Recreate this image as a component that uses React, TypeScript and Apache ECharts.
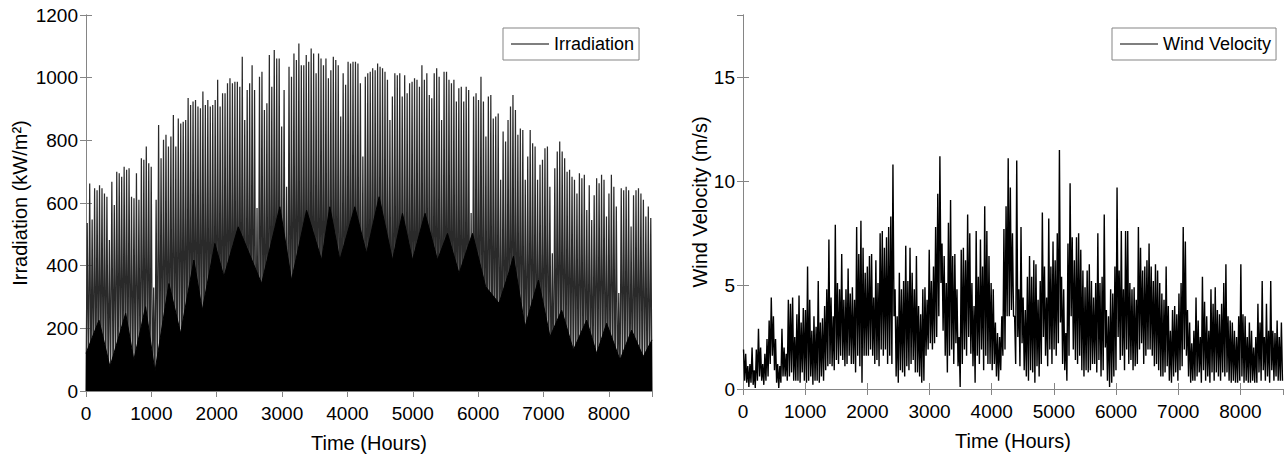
import React, { useEffect, useRef } from "react";
import * as echarts from "echarts";

// Axis ranges and tick steps
const IRR_X_MAX = 8660;
const WIND_X_MAX = 8685;
const X_STEP = 1000;
const IRR_Y_MAX = 1200;
const IRR_Y_STEP = 200;
const WIND_Y_MAX = 18;
const WIND_Y_STEP = 5;

// Irradiation: visible daily peak values (kW/m²), left to right
const irrPeaks = [
  536, 662, 547, 647, 641, 657, 647, 630, 620, 482,
  668, 594, 700, 695, 684, 716, 706, 711, 620, 615,
  695, 610, 743, 738, 780, 727, 716, 330, 610, 849,
  743, 802, 818, 780, 812, 881, 780, 870, 854, 859,
  865, 935, 913, 924, 929, 908, 902, 956, 913, 929,
  908, 913, 929, 993, 908, 950,
  950, 982, 998, 982, 987, 987, 971, 1067, 865, 961,
  982, 1040, 961, 584, 1003, 1019, 897, 918, 1072, 971,
  1088, 1061, 1061, 844, 961, 652, 1035, 1003, 1077, 1056,
  1109, 1040, 1040, 1072, 1051, 1093, 1077, 1014, 1077, 1061,
  1040, 1061, 998, 1024, 1067, 1056, 1040, 876, 1014, 977,
  1051, 1045, 1051, 1051, 1045, 982, 748, 1003,
  1014, 1019, 1030, 1024, 1045, 1035, 1030, 1019, 993, 865,
  940, 1014, 1008, 1014, 940, 1008, 950, 982, 987, 998,
  993, 971, 1040, 993, 1014, 945, 934, 1014, 1030, 1003,
  865, 1019, 1019, 993, 982, 993, 924, 966, 971, 924,
  971, 961, 568, 940, 950, 929, 1003, 924, 812, 940,
  945, 870, 876, 886, 674, 828, 796,
  865, 908, 945, 897, 818, 838, 833, 674, 748, 833,
  791, 780, 674, 722, 738, 775, 780, 652, 440, 711,
  764, 796, 764, 743, 700, 706, 684, 674, 630, 695,
  679, 690, 578, 657, 546, 625, 679, 663, 690, 674,
  557, 630, 690, 652, 589, 313, 647, 641, 652, 641,
  525, 625, 641, 647, 630, 610, 557, 589, 552,
];

// Irradiation: dense solid-black lower band (hours, kW/m²)
const irrBaseHours = [
  0, 199, 367, 607, 732, 912, 1055, 1269, 1448, 1651,
  1779, 1972, 2110, 2329, 2686, 2966, 3145, 3375, 3604, 3731,
  3884, 4113, 4292, 4485, 4689, 4842, 4995, 5188, 5378, 5531,
  5708, 5913, 6115, 6320, 6473, 6540, 6717, 6922, 7100, 7278,
  7457, 7660, 7813, 7966, 8170, 8348, 8526, 8660,
];
const irrBaseValues = [
  120, 226, 77, 248, 99, 269, 62, 343, 184, 418,
  258, 471, 365, 524, 343, 588, 354, 577, 418, 588,
  418, 588, 439, 620, 418, 567, 418, 567, 418, 503,
  375, 503, 333, 280, 380, 430, 205, 354, 173, 258,
  131, 226, 120, 216, 99, 194, 110, 163,
];

// Wind velocity (m/s): successive local highs and lows, left to right
const windHigh = [
  1.9, 1.7, 1.1, 1.2, 2.0, 0.9, 1.9, 2.9, 2.0, 1.2,
  1.7, 2.4, 3.3, 4.4, 3.5, 2.4, 1.2, 1.1, 2.9, 2.0,
  1.7, 4.3, 4.1, 4.4, 2.5, 3.6, 4.5, 3.2, 3.9, 3.8,
  5.9, 4.3, 2.8, 3.5, 3.0, 5.2, 3.2, 3.4, 4.0, 4.8,
  7.2, 4.4, 3.5, 7.9, 5.1, 4.8, 6.5, 4.3, 4.8, 5.8,
  4.6, 4.9, 4.3, 7.8, 6.5, 8.1, 6.8, 5.6, 5.9, 6.4,
  6.5,
  4.4, 6.2, 5.1, 7.5, 7.6, 6.8, 7.3, 7.8, 8.3, 10.8,
  4.8, 3.5, 5.6, 4.8, 5.2, 6.9, 5.2, 6.8, 5.6, 4.8,
  6.4, 4.0, 3.6, 4.8, 4.9, 4.3, 6.7, 5.2, 5.9, 7.8,
  9.4, 11.2, 7.0, 6.4, 5.1, 8.0, 9.1, 6.4, 6.5, 4.8,
  2.5, 6.7, 6.8, 6.2, 8.4, 7.5, 5.1, 4.0, 7.6, 5.4,
  7.2, 5.9, 8.8, 7.6, 6.4, 5.1, 4.8, 3.2, 2.7, 2.5,
  3.5, 7.7, 8.8,
  11.1, 9.7, 7.5, 3.5, 11.0, 4.8, 7.8, 4.4, 3.8, 5.4,
  6.4, 5.4, 6.2, 6.0, 4.3, 5.2, 8.5, 5.9, 4.4, 8.2,
  5.9, 7.1, 6.2, 7.5, 11.5, 5.4, 4.8, 2.7, 7.0, 9.9,
  7.3, 6.2, 7.3, 7.5, 6.7, 5.7, 4.9, 5.7, 6.0, 5.2,
  4.4, 5.1, 7.5, 5.1, 5.4, 8.4, 3.8, 3.5, 4.8, 4.6,
  5.9, 9.7, 5.7, 7.6, 4.8, 7.6, 7.6, 5.1, 4.8, 4.9,
  4.3, 7.8, 6.8, 5.7, 5.9, 6.2,
  7.0, 5.9, 5.2, 6.0, 5.7, 5.1, 4.6, 4.3, 5.9, 4.0,
  2.8, 3.8, 4.0, 3.6, 4.6, 5.1, 7.8, 7.1, 3.8, 3.2,
  2.2, 2.8, 4.4, 3.3, 2.5, 5.4, 4.2, 3.5, 2.8, 4.8,
  4.1, 4.9, 3.8, 3.6, 4.1, 5.1, 6.0, 3.5, 3.3, 3.2,
  2.8, 2.5, 3.5, 6.0, 3.6, 3.5, 2.5, 3.2, 2.8, 2.0,
  2.5, 4.1, 3.2, 5.2, 2.5, 4.1, 2.8, 5.2, 2.8, 2.7,
  3.3, 2.5, 3.2,
];
const windLow = [
  0.4, 0.3, 0.1, 0.3, 0.2, 0.05, 0.4, 0.6, 0.4, 0.2,
  0.4, 0.6, 1.2, 1.6, 0.9, 0.3, 0.05, 0.3, 0.6, 0.6,
  0.4, 0.6, 0.8, 0.4, 0.4, 0.4, 0.3, 0.8, 0.4, 0.3,
  0.4, 0.6, 0.2, 0.4, 0.4, 0.3, 0.6, 0.4, 0.9, 1.1,
  1.2, 1.1, 0.9, 1.4, 1.2, 1.6, 1.4, 1.1, 1.2, 1.6,
  1.2, 1.2, 0.8, 1.6, 1.1, 0.3, 1.6, 1.6, 1.6, 1.9,
  1.6,
  1.2, 1.4, 1.1, 1.9, 1.6, 1.9, 1.2, 1.6, 1.2, 3.5,
  0.6, 0.3, 0.9, 0.8, 0.6, 1.1, 0.9, 1.2, 1.4, 0.8,
  0.8, 0.6, 0.3, 0.4, 1.6, 1.9, 2.2, 1.9, 2.2, 2.5,
  3.5, 5.1, 2.8, 1.6, 0.8, 1.6, 1.9, 1.2, 2.2, 1.1,
  0.1, 1.2, 1.9, 1.6, 2.5, 1.7, 1.1, 0.3, 1.6, 1.2,
  1.9, 0.9, 1.6, 1.2, 1.2, 0.9, 1.2, 0.6, 0.4, 0.9,
  1.6, 1.9, 3.5,
  3.5, 3.8, 3.5, 1.2, 2.5, 1.1, 2.2, 0.9, 0.6, 0.4,
  0.9, 0.8, 0.3, 1.1, 0.6, 1.2, 2.5, 1.6, 1.1, 1.9,
  1.2, 1.9, 1.6, 2.2, 3.2, 1.2, 0.9, 0.4, 1.6, 3.5,
  1.9, 1.4, 1.2, 1.6, 0.9, 0.6, 0.9, 0.8, 0.9, 1.2,
  1.2, 0.8, 1.4, 0.6, 0.9, 2.0, 0.4, 0.1, 0.3, 0.6,
  0.9, 2.5, 1.4, 1.6, 0.9, 1.9, 1.2, 1.4, 0.9, 1.1,
  1.2, 1.9, 2.2, 1.2, 1.6, 1.9,
  1.9, 1.6, 1.1, 1.2, 0.9, 0.6, 0.6, 0.8, 1.1, 0.4,
  0.3, 0.6, 0.8, 0.4, 0.9, 1.1, 1.9, 1.6, 0.6, 0.3,
  0.4, 0.4, 0.6, 0.8, 0.3, 0.9, 0.4, 0.6, 0.3, 0.8,
  0.4, 0.8, 0.6, 0.4, 0.8, 0.6, 0.8, 0.4, 0.3, 0.4,
  0.3, 0.3, 0.4, 0.6, 0.3, 0.4, 0.3, 0.3, 0.4, 0.3,
  0.3, 0.8, 0.4, 0.9, 0.4, 0.6, 0.3, 0.9, 0.4, 0.6,
  0.4, 0.4, 0.4,
];

const FONT = "'Liberation Sans', Arial, Helvetica, sans-serif";
const AXIS_COLOR = "#858585";

function xAxisPair(gridIndex: number, max: number, name: string) {
  const common = {
    gridIndex,
    type: "value" as const,
    min: 0,
    max,
    interval: X_STEP,
    splitLine: { show: false },
    axisLine: { show: true, lineStyle: { color: AXIS_COLOR, width: 1 } },
    axisTick: { show: true, inside: true, length: 6, lineStyle: { color: AXIS_COLOR } },
  };
  return [
    {
      ...common,
      position: "bottom",
      name,
      nameLocation: "middle",
      nameGap: 42,
      nameTextStyle: { color: "#000", fontSize: 20, fontFamily: FONT },
      axisLabel: {
        show: true,
        color: "#000",
        fontSize: 19,
        fontFamily: FONT,
        margin: 13,
        showMaxLabel: false,
        formatter: (v: number) => String(v),
      },
    },
    { ...common, position: "top", axisLabel: { show: false } },
  ];
}

function yAxisPair(gridIndex: number, max: number, step: number, name: string, nameGap: number) {
  const common = {
    gridIndex,
    type: "value" as const,
    min: 0,
    max,
    interval: step,
    splitLine: { show: false },
    axisLine: { show: true, lineStyle: { color: AXIS_COLOR, width: 1 } },
    axisTick: { show: true, inside: true, length: 6, lineStyle: { color: AXIS_COLOR } },
  };
  return [
    {
      ...common,
      position: "left",
      name,
      nameLocation: "middle",
      nameGap,
      nameTextStyle: { color: "#000", fontSize: 20, fontFamily: FONT },
      axisLabel: {
        show: true,
        color: "#000",
        fontSize: 19,
        fontFamily: FONT,
        margin: 8,
        showMaxLabel: max % step === 0,
        formatter: (v: number) => String(v),
      },
    },
    { ...common, position: "right", axisLabel: { show: false } },
  ];
}

export default function App() {
  const ref = useRef<HTMLDivElement>(null);

  useEffect(() => {
    if (!ref.current) return;
    const chart = echarts.init(ref.current, null, { renderer: "svg" });

    const step = IRR_X_MAX / irrPeaks.length;
    const spikes: number[][] = [];
    irrPeaks.forEach((p, i) => {
      spikes.push([i * step, 0]);
      spikes.push([(i + 0.5) * step, p]);
    });
    spikes.push([IRR_X_MAX, 0]);

    const base = irrBaseHours.map((h, i) => [h, irrBaseValues[i]]);

    const wstep = WIND_X_MAX / windHigh.length;
    const wind: number[][] = [];
    windHigh.forEach((h, i) => {
      wind.push([(i + 0.25) * wstep, h]);
      wind.push([(i + 0.75) * wstep, windLow[i]]);
    });

    const legendCommon = {
      top: 28,
      orient: "horizontal" as const,
      selectedMode: false,
      borderColor: AXIS_COLOR,
      borderWidth: 1,
      backgroundColor: "#fff",
      padding: [6, 5, 6, 8],
      icon: "rect",
      itemWidth: 38,
      itemHeight: 1,
      itemStyle: { color: "#000" },
      textStyle: { color: "#000", fontSize: 18, fontFamily: FONT, lineHeight: 20 },
    };

    chart.setOption({
      animation: false,
      backgroundColor: "#fff",
      textStyle: { fontFamily: FONT },
      grid: [
        { left: 86, top: 15, width: 566, height: 376, containLabel: false },
        { left: 743, top: 15, width: 540, height: 374, containLabel: false },
      ],
      xAxis: [
        ...xAxisPair(0, IRR_X_MAX, "Time (Hours)"),
        ...xAxisPair(1, WIND_X_MAX, "Time (Hours)"),
      ],
      yAxis: [
        ...yAxisPair(0, IRR_Y_MAX, IRR_Y_STEP, "Irradiation (kW/m²)", 56),
        ...yAxisPair(1, WIND_Y_MAX, WIND_Y_STEP, "Wind Velocity (m/s)", 32),
      ],
      legend: [
        { ...legendCommon, left: 503, data: ["Irradiation"] },
        { ...legendCommon, left: 1112, data: ["Wind Velocity"] },
      ],
      series: [
        {
          name: "Irradiation",
          type: "line",
          xAxisIndex: 0,
          yAxisIndex: 0,
          data: spikes,
          symbol: "none",
          showSymbol: false,
          lineStyle: { color: "#2a2a2a", width: 1.25 },
          itemStyle: { color: "#000" },
          z: 2,
        },
        {
          name: "base",
          type: "line",
          xAxisIndex: 0,
          yAxisIndex: 0,
          data: base,
          symbol: "none",
          showSymbol: false,
          lineStyle: { color: "#000", width: 1 },
          areaStyle: { color: "#000", opacity: 1 },
          z: 3,
        },
        {
          name: "Wind Velocity",
          type: "line",
          xAxisIndex: 2,
          yAxisIndex: 2,
          data: wind,
          symbol: "none",
          showSymbol: false,
          lineStyle: { color: "#000", width: 1.4 },
          itemStyle: { color: "#000" },
          z: 2,
        },
      ],
    });

    return () => chart.dispose();
  }, []);

  return (
    <div
      ref={ref}
      style={{ position: "fixed", left: 0, top: 0, width: 1287, height: 458 }}
    />
  );
}
